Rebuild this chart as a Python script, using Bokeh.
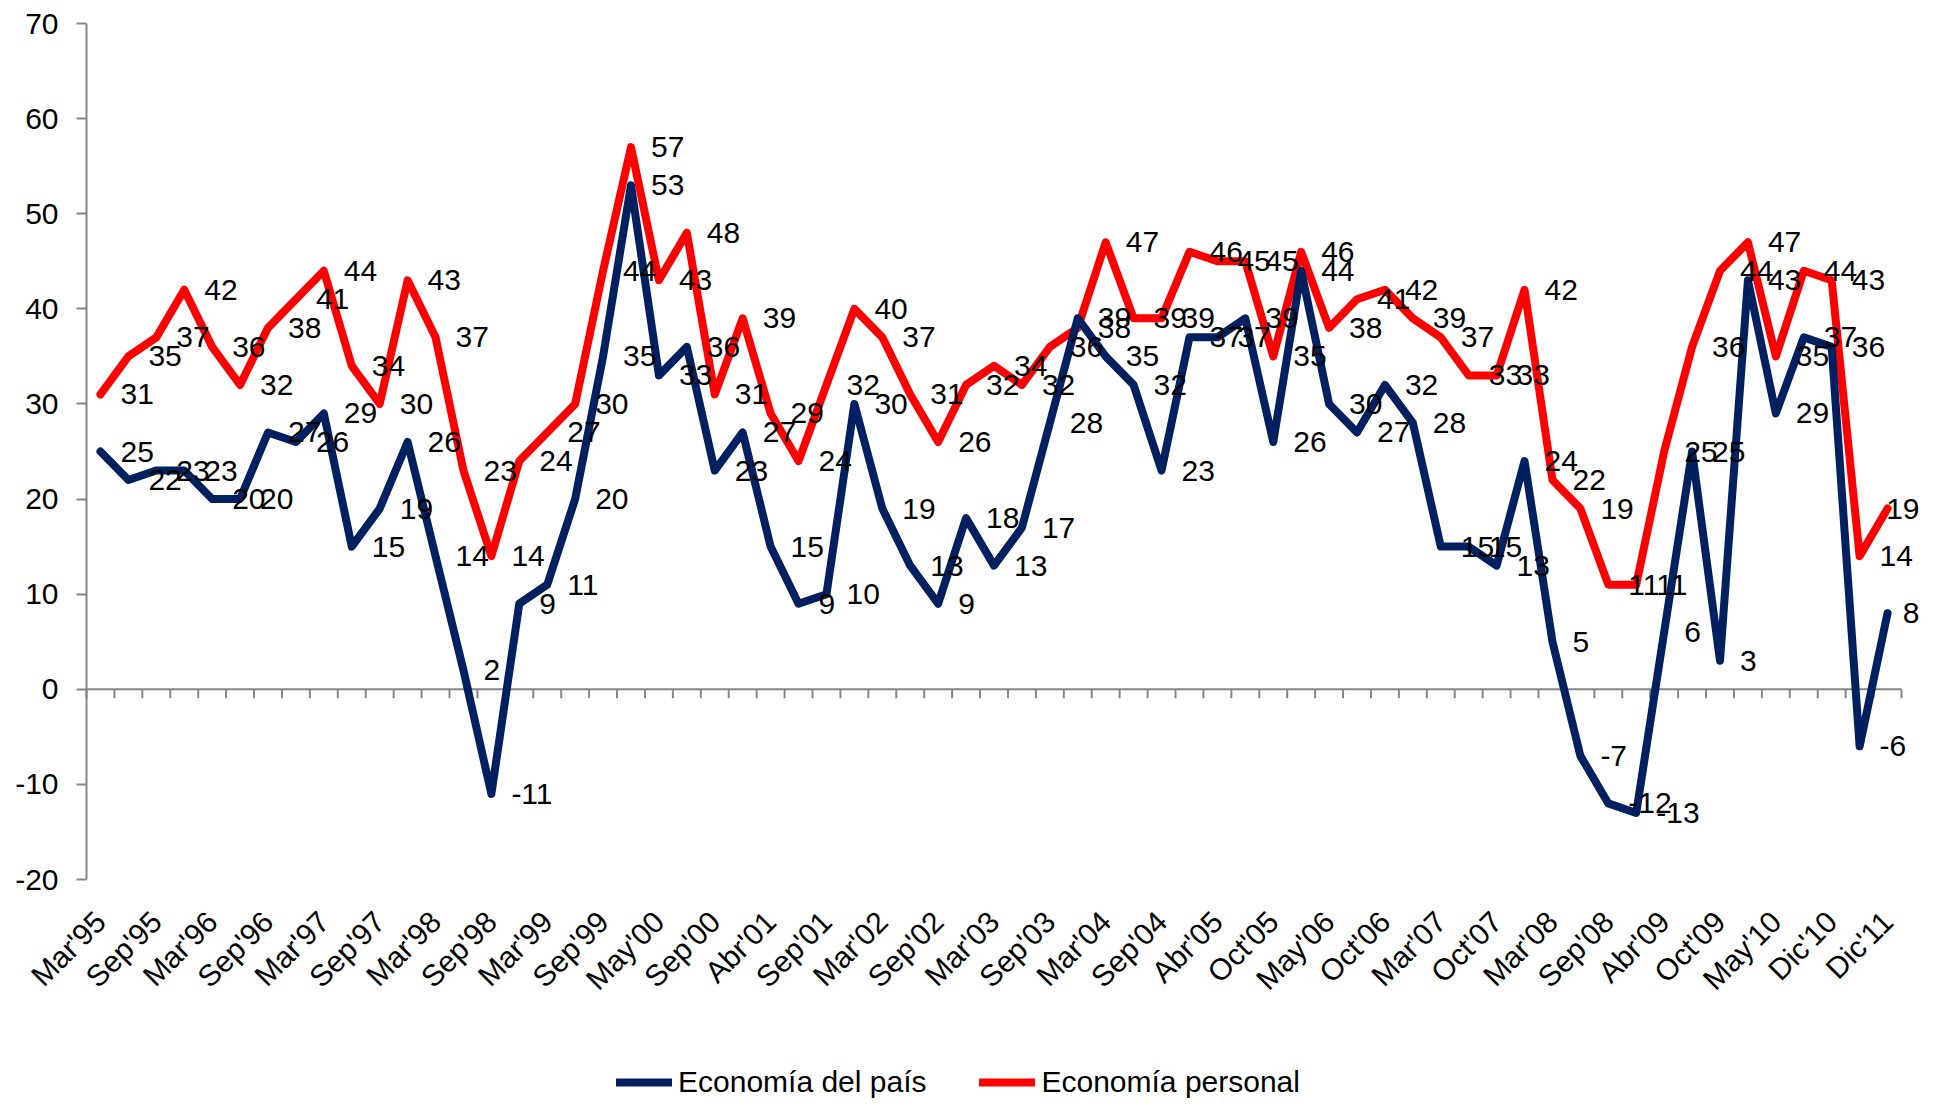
from math import pi
from bokeh.plotting import figure
from bokeh.models import (Range1d, LinearAxis, FixedTicker, ColumnDataSource,
                          Legend, LegendItem)
from bokeh.core.properties import value
from bokeh.embed import file_html
from bokeh.resources import INLINE

# ---------------- data ----------------
tick_labels = ["Mar'95", "Sep'95", "Mar'96", "Sep'96", "Mar'97", "Sep'97", "Mar'98",
               "Sep'98", "Mar'99", "Sep'99", "May'00", "Sep'00", "Abr'01", "Sep'01",
               "Mar'02", "Sep'02", "Mar'03", "Sep'03", "Mar'04", "Sep'04", "Abr'05",
               "Oct'05", "May'06", "Oct'06", "Mar'07", "Oct'07", "Mar'08", "Sep'08",
               "Abr'09", "Oct'09", "May'10", "Dic'10", "Dic'11"]

economia_pais = [25, 22, 23, 23, 20, 20, 27, 26, 29, 15, 19, 26, 14, 2, -11, 9, 11, 20,
                 35, 53, 33, 36, 23, 27, 15, 9, 10, 30, 19, 13, 9, 18, 13, 17, 28, 39,
                 35, 32, 23, 37, 37, 39, 26, 44, 30, 27, 32, 28, 15, 15, 13, 24, 5, -7,
                 -12, -13, 6, 25, 3, 43, 29, 37, 36, -6, 8]

economia_personal = [31, 35, 37, 42, 36, 32, 38, 41, 44, 34, 30, 43, 37, 23, 14, 24, 27,
                     30, 44, 57, 43, 48, 31, 39, 29, 24, 32, 40, 37, 31, 26, 32, 34, 32,
                     36, 38, 47, 39, 39, 46, 45, 45, 35, 46, 38, 41, 42, 39, 37, 33, 33,
                     42, 22, 19, 11, 11, 25, 36, 44, 47, 35, 44, 43, 14, 19]

series_names = ["Economía del país", "Economía personal"]
y_ticks = list(range(-20, 71, 10))

# ---------------- style / geometry ----------------
BLUE = "#002060"
RED = "#FF0000"
GRAY = "#868686"
FONT = "Liberation Sans"
LABEL_PX = 30

W, H = 1933, 1105
AXIS_LEFT_PX = 86                  # pixel column of the value axis
AXIS_TOP_PX = 23                   # pixel row of the 70 level
AXIS_BOTTOM_PX = 879               # pixel row of the -20 level
Y_MIN, Y_MAX = -20, 70
Y_PX = (AXIS_BOTTOM_PX - AXIS_TOP_PX) / (Y_MAX - Y_MIN)
CAT_PX = 1815 / 65.0               # pixel width of one category slot

n = len(economia_pais)
xs = list(range(n))
x_first = -0.5                                   # left edge of first category
x_start = x_first - AXIS_LEFT_PX / CAT_PX        # frame spans the whole page
x_end = x_start + W / CAT_PX
y_view_max = Y_MAX + AXIS_TOP_PX / Y_PX
y_view_min = y_view_max - H / Y_PX


def label_offsets(vals, gap=20, right_limit=W - 14):
    """Excel keeps data labels inside the chart area: shift the ones near the edge."""
    out = []
    for i, v in enumerate(vals):
        s = str(v)
        w = sum(0.333 if ch == "-" else 0.556 for ch in s) * LABEL_PX
        px = AXIS_LEFT_PX + (i + 0.5) * CAT_PX
        out.append(min(gap, right_limit - px - w))
    return out


src = ColumnDataSource(dict(
    x=xs,
    pais=economia_pais,
    personal=economia_personal,
    pais_txt=[str(v) for v in economia_pais],
    personal_txt=[str(v) for v in economia_personal],
    pais_off=label_offsets(economia_pais),
    personal_off=label_offsets(economia_personal),
))

p = figure(width=W, height=H, output_backend="svg", toolbar_location=None,
           x_range=Range1d(x_start, x_end), y_range=Range1d(y_view_min, y_view_max),
           x_axis_location=None, y_axis_location=None,
           min_border_left=0, min_border_right=0, min_border_top=0,
           min_border_bottom=0)
p.xgrid.visible = False
p.ygrid.visible = False
p.outline_line_color = None
p.background_fill_color = "white"
p.border_fill_color = "white"

# value axis pinned at the left edge of the first category, from -20 to 70
yax = LinearAxis(fixed_location=x_first,
                 ticker=FixedTicker(ticks=y_ticks), bounds=(Y_MIN, Y_MAX),
                 major_label_overrides={t: str(t) for t in y_ticks},
                 axis_line_color=GRAY, axis_line_width=2,
                 major_tick_line_color=GRAY, major_tick_line_width=2,
                 major_tick_out=10, major_tick_in=0,
                 minor_tick_line_color=None,
                 major_label_text_font=FONT, major_label_text_font_size="30px",
                 major_label_text_color="black", major_label_standoff=18)
p.add_layout(yax, "left")

# category labels: an axis pinned at the bottom of the value range (-20)
label_ticks = xs[::2]
xax = LinearAxis(fixed_location=Y_MIN,
                 ticker=FixedTicker(ticks=label_ticks),
                 major_label_overrides={t: lab for t, lab in zip(label_ticks, tick_labels)},
                 major_label_orientation=pi / 4,
                 axis_line_color=None, major_tick_line_color=None,
                 minor_tick_line_color=None,
                 major_label_text_font=FONT, major_label_text_font_size="30px",
                 major_label_text_color="black", major_label_standoff=31)
p.add_layout(xax, "below")

# zero line with category-boundary ticks
bounds = [i - 0.5 for i in range(n + 1)]
tick_len = 9 / Y_PX
p.segment(x0=[bounds[0]], y0=[0], x1=[bounds[-1]], y1=[0],
          line_color=GRAY, line_width=2)
p.segment(x0=bounds, y0=[0] * len(bounds), x1=bounds, y1=[-tick_len] * len(bounds),
          line_color=GRAY, line_width=2)

# lines
r_red = p.line("x", "personal", source=src, line_color=RED, line_width=8,
               line_join="round", line_cap="round")
r_blue = p.line("x", "pais", source=src, line_color=BLUE, line_width=8,
                line_join="round", line_cap="round")

# data labels
for col in ("pais", "personal"):
    p.text("x", col, text=col + "_txt", source=src, x_offset=col + "_off",
           text_align="left", text_baseline="middle",
           text_font=value(FONT), text_font_size=f"{LABEL_PX}px", text_color="black")

legend = Legend(items=[LegendItem(label=series_names[0], renderers=[r_blue]),
                       LegendItem(label=series_names[1], renderers=[r_red])],
                orientation="horizontal", location=(616, 3),
                border_line_color=None, background_fill_alpha=0,
                label_text_font=FONT, label_text_font_size="30px",
                label_text_color="black",
                glyph_width=56, glyph_height=40, label_height=40,
                label_standoff=6, spacing=53, padding=0, margin=0)
p.add_layout(legend, "center")

open("out.html", "w").write(file_html(p, INLINE))
